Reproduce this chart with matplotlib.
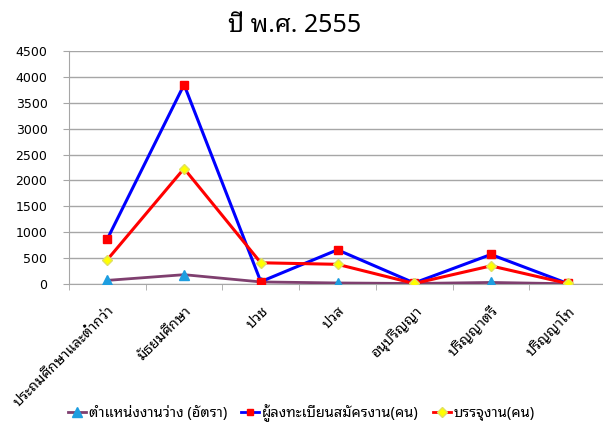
import matplotlib
matplotlib.use('Agg')
import matplotlib.pyplot as plt
from matplotlib import font_manager
from matplotlib.lines import Line2D

# ข้อมูล
categories = ["ประถมศึกษาและต่ำกว่า", "มัธยมศึกษา", "ปวช", "ปวส",
              "อนุปริญญา", "ปริญญาตรี", "ปริญญาโท"]
vacancy = [70, 180, 40, 20, 10, 30, 5]
applicants = [870, 3850, 45, 660, 20, 570, 10]
placed = [470, 2230, 410, 380, 10, 350, 10]
series_names = ["ตำแหน่งงานว่าง (อัตรา)", "ผู้ลงทะเบียนสมัครงาน(คน)", "บรรจุงาน(คน)"]
yticks = [0, 500, 1000, 1500, 2000, 2500, 3000, 3500, 4000, 4500]
title = "ปี พ.ศ. 2555"

# หาฟอนต์ไทยที่มีอยู่ในเครื่อง
available = {f.name for f in font_manager.fontManager.ttflist}
thai_font = "DejaVu Sans"
for cand in ["Noto Sans Thai Looped", "IBM Plex Sans Thai Looped", "Noto Sans Thai",
             "Sarabun", "Niramit", "K2D"]:
    if cand in available:
        thai_font = cand
        break
plt.rcParams['font.family'] = [thai_font, 'DejaVu Sans']

fig = plt.figure(figsize=(6.03, 4.29), dpi=100)
ax = fig.add_axes([69 / 603, 1 - 284 / 429, 537 / 603, 233 / 429])

x = list(range(len(categories)))
ax.plot(x, vacancy, color='#7f3f6f', lw=2, marker='^', ms=7,
        mfc='#1e9ee0', mec='#1e9ee0', zorder=3)
ax.plot(x, applicants, color='#0000ff', lw=2.2, marker='s', ms=5.5,
        mfc='#ff0000', mec='#ff0000', zorder=4)
ax.plot(x, placed, color='#ff0000', lw=2.2, marker='D', ms=5.5,
        mfc='#ffff00', mec='#e0e060', zorder=5)

ax.set_xlim(-0.5, len(categories) - 0.5)
ax.set_ylim(0, 4500)
ax.set_yticks(yticks)
ax.set_yticklabels([str(v) for v in yticks], family='DejaVu Sans', fontsize=9)
ax.yaxis.grid(True, color='#a6a6a6', lw=1)
ax.set_axisbelow(True)

ax.set_xticks(x)
ax.set_xticklabels(categories, rotation=45, ha='right', va='top',
                   rotation_mode='anchor', fontsize=10.5)
ax.set_xticks([i + 0.5 for i in range(-1, len(categories))], minor=True)
ax.tick_params(axis='x', which='major', length=0, pad=14)
ax.tick_params(axis='x', which='minor', length=4.5, color='#a6a6a6')
ax.tick_params(axis='y', length=4.5, color='#a6a6a6', pad=11)

for s in ['top', 'right']:
    ax.spines[s].set_visible(False)
for s in ['left', 'bottom']:
    ax.spines[s].set_color('#a6a6a6')

fig.text(295 / 603, 1 - 26 / 429, title, ha='center', va='center', fontsize=18)

handles = [
    Line2D([], [], color='#7f3f6f', lw=2, marker='^', ms=6.5, mfc='#1e9ee0', mec='#1e9ee0'),
    Line2D([], [], color='#0000ff', lw=2, marker='s', ms=5, mfc='#ff0000', mec='#ff0000'),
    Line2D([], [], color='#ff0000', lw=2, marker='D', ms=5, mfc='#ffff00', mec='#e0e060'),
]
fig.legend(handles, series_names, loc='center', bbox_to_anchor=(0.5, 1 - 413 / 429),
           ncol=3, frameon=False, fontsize=10.5, handlelength=1.2, handletextpad=0.2,
           columnspacing=1.0)

fig.savefig('out.png')
